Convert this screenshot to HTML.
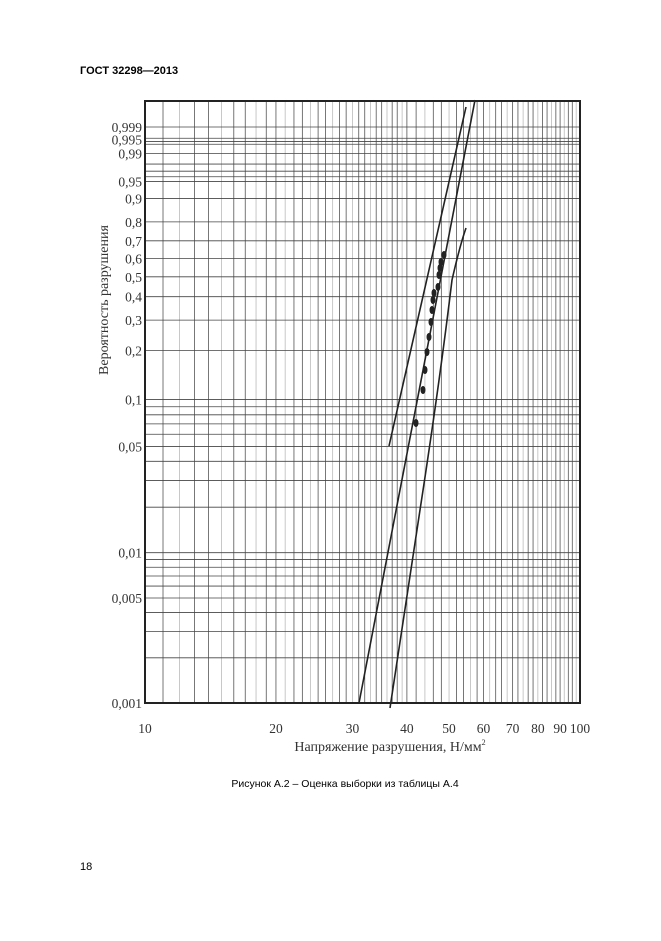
<!DOCTYPE html>
<html><head><meta charset="utf-8"><style>
body{margin:0;background:#fff;width:661px;height:936px;overflow:hidden;}
</style></head><body>
<svg width="661" height="936" xmlns="http://www.w3.org/2000/svg">
<text x="80" y="74" font-family="Liberation Sans, sans-serif" font-weight="bold" font-size="11">ГОСТ 32298—2013</text>
<g id="grid"></g>
<rect x="145" y="101" width="435" height="602" fill="none" stroke="#222" stroke-width="2"/>
<g id="lab" font-family="Liberation Serif, serif" font-size="13.5" fill="#333"></g>
<text transform="translate(108,300) rotate(-90)" text-anchor="middle" font-family="Liberation Serif, serif" font-size="14" fill="#333">Вероятность разрушения</text>
<text x="390" y="751" text-anchor="middle" font-family="Liberation Serif, serif" font-size="14" fill="#333">Напряжение разрушения, Н/мм<tspan font-size="8" dy="-6">2</tspan></text>
<text x="345" y="787" text-anchor="middle" font-family="Liberation Sans, sans-serif" font-size="10.5">Рисунок А.2 – Оценка выборки из таблицы А.4</text>
<text x="80" y="870" font-family="Liberation Sans, sans-serif" font-size="11">18</text>
<g stroke="#222" stroke-width="1.6" fill="none">
<line x1="389" y1="446" x2="466" y2="107"/>
<line x1="359" y1="703" x2="475" y2="100"/>
<path d="M390 708 L420 510 Q440 380 452 280 Q460 245 466 228"/>
</g>
<g fill="#222" id="pts"></g>
<script>
var X=function(v){return 145+Math.log10(v/10)*435;};
var Y=function(p){return 703-(Math.log(-Math.log(1-p))+6.9073)*65.16;};
var ns="http://www.w3.org/2000/svg",g=document.getElementById('grid'),lab=document.getElementById('lab');
function ln(x1,y1,x2,y2,c,w){var l=document.createElementNS(ns,'line');l.setAttribute('x1',x1);l.setAttribute('y1',y1);l.setAttribute('x2',x2);l.setAttribute('y2',y2);l.setAttribute('stroke',c);l.setAttribute('stroke-width',w);g.appendChild(l);}
function tx(x,y,s,a){var t=document.createElementNS(ns,'text');t.setAttribute('x',x);t.setAttribute('y',y);t.setAttribute('text-anchor',a);t.textContent=s;lab.appendChild(t);}
var vs=[];for(var v=11;v<40;v++)vs.push(v);for(var v=40;v<100;v+=2)vs.push(v);
vs.forEach(function(v,i){var x=X(v);ln(x,101,x,703,(i%3==1)?'#bbb':'#555',0.8);});
var ps=[0.001,0.002,0.003,0.004,0.005,0.006,0.007,0.008,0.009,0.01,0.02,0.03,0.04,0.05,0.06,0.07,0.08,0.09,0.1,0.2,0.3,0.4,0.5,0.6,0.7,0.8,0.9,0.95,0.96,0.97,0.98,0.99,0.995,0.996,0.997,0.999];
ps.forEach(function(p){var y=Y(p);ln(145,y,580,y,'#444',0.8);});
var yl=[[0.999,'0,999'],[0.995,'0,995'],[0.99,'0,99'],[0.95,'0,95'],[0.9,'0,9'],[0.8,'0,8'],[0.7,'0,7'],[0.6,'0,6'],[0.5,'0,5'],[0.4,'0,4'],[0.3,'0,3'],[0.2,'0,2'],[0.1,'0,1'],[0.05,'0,05'],[0.01,'0,01'],[0.005,'0,005'],[0.001,'0,001']];
yl.forEach(function(a){var dy=a[0]==0.995?-1:4;tx(142,Y(a[0])+dy+1,a[1],'end');});
[10,20,30,40,50,60,70,80,90,100].forEach(function(v){tx(X(v),733,v,'middle');});
var pts=document.getElementById('pts');
[[416,423],[423,390],[425,370],[427,352],[429,337],[431,322],[432,310],[433,300],[434,293],[438,287],[439,275],[440,268],[441,262],[444,255]].forEach(function(q){var e=document.createElementNS(ns,'ellipse');e.setAttribute('cx',q[0]);e.setAttribute('cy',q[1]);e.setAttribute('rx',2.5);e.setAttribute('ry',4);pts.appendChild(e);});
</script>
</svg>
</body></html>
